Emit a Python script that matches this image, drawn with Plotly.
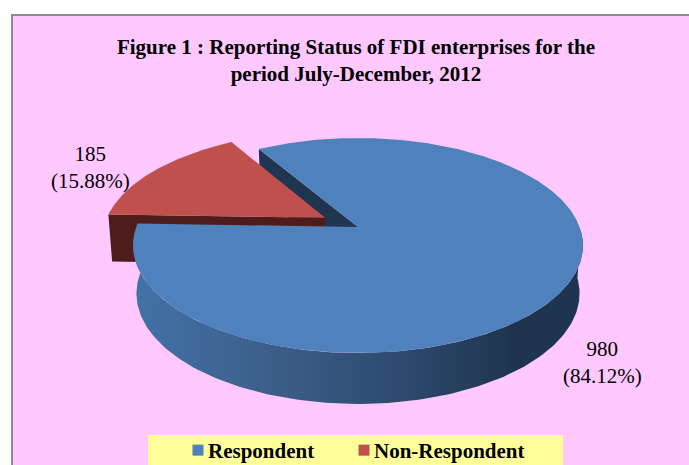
import math
import numpy as np
import plotly.graph_objects as go

# ---- data ----
categories = ["Respondent", "Non-Respondent"]
values = [980, 185]
percent_labels = ["84.12%", "15.88%"]
title_lines = ["Figure 1 : Reporting Status of FDI enterprises for the",
               "period July-December, 2012"]

# ---- style ----
BLUE, RED = "#4F81BD", "#C0504D"
NAVY, DARK_RED = "#1F3550", "#4E1D1B"
PINK, YELLOW, BORDER = "#FFC8FF", "#FFFF99", "#8C8C8C"
FONT = "Liberation Serif"
W, H = 689, 465

# ---- perspective pie geometry ----
CX, CY = 358.0, 227.0        # apex of the pie on the page
A, B, K = 221.6, 104.3, 0.172  # projection of the unit disc
DROP, STRETCH, SHRINK = 47.4, 1.028, 0.985  # lower plane of the disc
FIRST_ANGLE = -30.9           # clockwise from 12 o'clock
EXPLODE = 0.175


def project(px, py, lower=False):
    w = 1 + K * py
    x, y = A * px / w, -B * py / w   # page offset from the apex
    if lower:
        x, y = x * SHRINK, y * STRETCH + DROP
    return CX + x, CY + y


def arc(a0, a1, n=160, off=(0.0, 0.0), lower=False):
    t = np.radians(np.linspace(a0, a1, n))
    return project(np.sin(t) + off[0], np.cos(t) + off[1], lower)


def poly(xs, ys, color=None, **kw):
    style = dict(fillcolor=color) if color else {}
    style.update(kw)
    return go.Scatter(x=list(xs), y=list(ys), mode="lines", fill="toself",
                      line=dict(width=0), hoverinfo="skip", showlegend=False, **style)


total = sum(values)
sweeps = [v / total * 360 for v in values]
b0 = FIRST_ANGLE
b1 = b0 + sweeps[0]
r0, r1 = b1, b1 + sweeps[1]
mid = math.radians((r0 + r1) / 2)
off = (EXPLODE * math.sin(mid), EXPLODE * math.cos(mid))

fig = go.Figure()

# back cut wall of the blue slice
rim = project(math.sin(math.radians(b0)), math.cos(math.radians(b0)))
rim_low = project(math.sin(math.radians(b0)), math.cos(math.radians(b0)), True)
apex_low = project(0, 0, True)
fig.add_trace(poly([CX, rim[0], rim_low[0], apex_low[0]],
                   [CY, rim[1], rim_low[1], apex_low[1]], NAVY))

# red slice: front cut wall, outer wall, top
tip = project(*off)
tip_low = project(*off, True)
rx, ry = arc(r0, r1, off=off)
rx_low, ry_low = arc(r0, r1, off=off, lower=True)
fig.add_trace(poly([tip[0], rx[0], rx_low[0], tip_low[0]],
                   [tip[1], ry[0], ry_low[0], tip_low[1]], DARK_RED))
fig.add_trace(poly([tip[0], *rx], [tip[1], *ry], RED))

# blue slice: outer wall with its gradient, then top
ox, oy = arc(92, b1)
ox_low, oy_low = arc(92, b1, lower=True)
fig.add_trace(poly(list(ox) + list(ox_low[::-1]), list(oy) + list(oy_low[::-1]),
                   fillgradient=dict(type="horizontal",
                                     colorscale=[[0, "#4272A8"], [0.3, "#3C5F8A"],
                                                 [0.6, "#2C4A6E"], [0.85, "#1F344E"],
                                                 [1, "#1F344E"]])))
bx, by = arc(b0, b1, n=400)
fig.add_trace(poly([CX, *bx], [CY, *by], BLUE))

# legend keys
for name, color in zip(categories, [BLUE, RED]):
    fig.add_trace(go.Scatter(x=[None], y=[None], mode="markers", name=name,
                             marker=dict(symbol="square", size=11, color=color)))

anchors = [(602, 362.5), (90, 167.5)]
annotations = [dict(x=ax, y=ay, xref="x", yref="y", showarrow=False,
                    text=f"{v}<br>({p})", align="center",
                    font=dict(family=FONT, size=21, color="#000000"))
               for v, p, (ax, ay) in zip(values, percent_labels, anchors)]

fig.update_layout(
    width=W, height=H, margin=dict(l=0, r=0, t=0, b=0, autoexpand=False),
    paper_bgcolor="#FFFFFF", plot_bgcolor="rgba(0,0,0,0)",
    xaxis=dict(range=[0, W], visible=False, fixedrange=True),
    yaxis=dict(range=[H, 0], visible=False, fixedrange=True),
    title=dict(text="<b>" + "<br>".join(title_lines) + "</b>",
               x=356 / W, xanchor="center", y=1 - 54 / H, yanchor="middle",
               font=dict(family=FONT, size=21, color="#000000")),
    shapes=[
        dict(type="rect", layer="below", x0=12, x1=W + 5, y0=15, y1=H + 5,
             fillcolor=PINK, line=dict(color=BORDER, width=2)),
        dict(type="rect", layer="below", x0=148, x1=563, y0=435, y1=H + 2,
             fillcolor=YELLOW, line=dict(width=0)),
    ],
    annotations=annotations,
    showlegend=True,
    legend=dict(orientation="h", x=168 / W, xanchor="left", y=1 - 450.5 / H, yanchor="middle",
                bgcolor="rgba(0,0,0,0)", entrywidth=121, entrywidthmode="pixels",
                font=dict(family=FONT, size=21, color="#000000", weight="bold")),
)

post = """
document.body.style.margin = '0';
document.querySelectorAll('.legend .legendpoints').forEach(function (n) {
  n.setAttribute('transform', 'translate(10,0)');
});
document.querySelectorAll('.legend .scrollbox').forEach(function (n) {
  n.removeAttribute('clip-path');
});
"""
fig.write_html("out.html", post_script=post, config=dict(displayModeBar=False))
